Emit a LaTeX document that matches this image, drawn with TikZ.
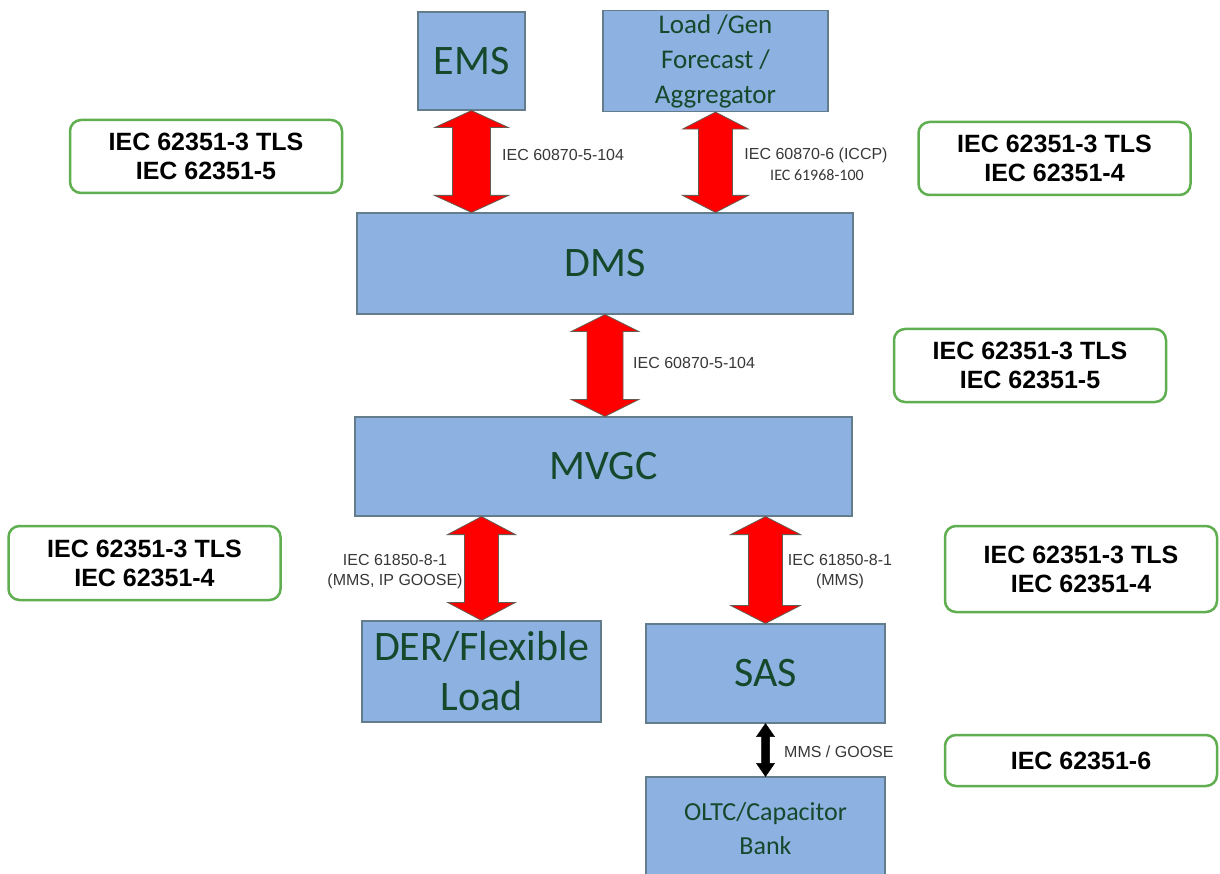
\documentclass[tikz,border=0pt]{standalone}
\usepackage{fontspec}
\usetikzlibrary{calc}
\newfontfamily\carlito{Carlito}
\newfontfamily\arial{Liberation Sans}
\definecolor{boxblue}{RGB}{141,177,225}
\definecolor{boxedge}{RGB}{100,125,140}
\definecolor{txtgreen}{RGB}{22,72,44}
\definecolor{grnedge}{RGB}{95,175,80}
\definecolor{lblgray}{RGB}{55,55,55}
\definecolor{arrowedge}{RGB}{100,90,80}
\tikzset{
 sysbox/.style={draw=boxedge, line width=1.2pt, fill=boxblue, text=txtgreen, inner sep=0pt, align=center, font=\carlito\fontsize{42}{50}\selectfont},
 stdbox/.style={draw=grnedge, line width=2.5pt, rounded corners=11pt, fill=white, inner sep=0pt, align=center, font=\arial\bfseries\fontsize{25}{29}\selectfont, minimum width=272pt},
 lbl/.style={inner sep=0pt, text=lblgray, font=\arial\fontsize{16}{20}\selectfont, align=center},
 redarrow/.style={fill=red, draw=arrowedge, line width=0.8pt},
 blkarrow/.style={fill=black, draw=black, line width=0.5pt}
}
% style, top point, bottom point, head half width, shaft half width, head length
\newcommand\dblarrow[6]{%
 \path[#1] let \p1=#2, \p2=#3 in
 (\x1,\y1) -- (\x1+#4pt,\y1-#6pt) -- (\x1+#5pt,\y1-#6pt) -- (\x1+#5pt,\y2+#6pt) -- (\x1+#4pt,\y2+#6pt) -- (\x1,\y2) -- (\x1-#4pt,\y2+#6pt) -- (\x1-#5pt,\y2+#6pt) -- (\x1-#5pt,\y1-#6pt) -- (\x1-#4pt,\y1-#6pt) -- cycle;}
\begin{document}
\begin{tikzpicture}[x=1pt,y=-1pt]
\useasboundingbox (0,0) rectangle (1220,874);
% system boxes
\node[sysbox, minimum width=107pt, minimum height=98pt] (ems) at (471.5,61) {EMS};
\node[sysbox, minimum width=225pt, minimum height=101pt, font=\carlito\fontsize{27}{35}\selectfont] (load) at (715.5,61) {Load /Gen\\Forecast /\\Aggregator};
\node[sysbox, minimum width=496pt, minimum height=101pt] (dms) at (605,263.5) {DMS};
\node[sysbox, minimum width=497pt, minimum height=99pt] (mvgc) at (603.5,466.5) {MVGC};
\node[sysbox, minimum width=239pt, minimum height=101pt] (der) at (481.5,671.5) {DER/Flexible\\Load};
\node[sysbox, minimum width=239pt, minimum height=99pt] (sas) at (765.5,673.5) {SAS};
\node[sysbox, minimum width=239pt, minimum height=104pt, font=\carlito\fontsize{26}{34}\selectfont] (oltc) at (765.5,829) {OLTC/Capacitor\\Bank};
% arrows
\dblarrow{redarrow}{(ems.south)}{(ems.south |- dms.north)}{37}{19}{17}
\dblarrow{redarrow}{(load.south)}{(load.south |- dms.north)}{33}{17}{17}
\dblarrow{redarrow}{(dms.south)}{(dms.south |- mvgc.north)}{34}{18}{17}
\dblarrow{redarrow}{(der.north |- mvgc.south)}{(der.north)}{34}{17}{18}
\dblarrow{redarrow}{(sas.north |- mvgc.south)}{(sas.north)}{35}{17}{18}
\dblarrow{blkarrow}{(sas.south)}{(oltc.north)}{9}{4}{13}
% protocol labels
\node[lbl, anchor=west] (l1) at (502,155) {IEC 60870-5-104};
\node[lbl] (l2a) at (816,155) {IEC 60870-6 (ICCP)};
\node[lbl, font=\carlito\fontsize{16}{20}\selectfont] (l2b) at (817,175) {IEC 61968-100};
\node[lbl, anchor=west] (l3) at (633,363) {IEC 60870-5-104};
\node[lbl] (l4) at (395,572) {IEC 61850-8-1\\(MMS, IP GOOSE)};
\node[lbl] (l5) at (840,572) {IEC 61850-8-1\\(MMS)};
\node[lbl, anchor=west] (l6) at (784,752) {MMS / GOOSE};
% security standard boxes
\node[stdbox, minimum height=73pt] (g1) at (206,156.5) {IEC 62351-3 TLS\\IEC 62351-5};
\node[stdbox, minimum height=73pt] (g2) at (1054.5,158.5) {IEC 62351-3 TLS\\IEC 62351-4};
\node[stdbox, minimum height=73pt] (g3) at (1030,365.5) {IEC 62351-3 TLS\\IEC 62351-5};
\node[stdbox, minimum height=74pt] (g4) at (144.5,563) {IEC 62351-3 TLS\\IEC 62351-4};
\node[stdbox, minimum height=86pt] (g5) at (1081,569) {IEC 62351-3 TLS\\IEC 62351-4};
\node[stdbox, minimum height=51pt] (g6) at (1081,760.5) {IEC 62351-6};
\end{tikzpicture}
\end{document}
